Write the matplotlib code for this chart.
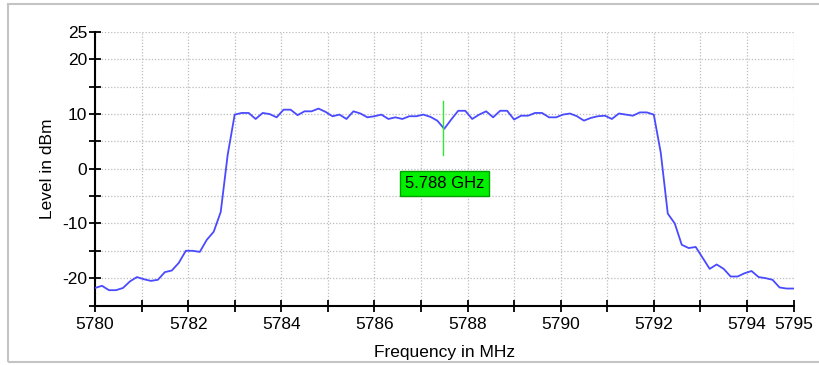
import numpy as np
import matplotlib
matplotlib.use("Agg")
import matplotlib.pyplot as plt
from matplotlib.patches import Rectangle
from matplotlib.ticker import FixedLocator, FixedFormatter

plt.rcParams['font.family'] = ['Liberation Sans', 'DejaVu Sans']

# ---- data ----
freq_start = 5780.0
freq_step = 0.15
levels = [
    -21.8, -21.4, -22.2, -22.2, -21.8, -20.6, -19.8, -20.2, -20.5, -20.3,
    -18.9, -18.6, -17.2, -15.0, -15.0, -15.2, -13.0, -11.5, -7.9, 2.6,
    9.9, 10.2, 10.2, 9.1, 10.2, 10.0, 9.4, 10.8, 10.8, 9.8,
    10.5, 10.5, 11.0, 10.4, 9.6, 9.9, 9.1, 10.5, 10.1, 9.4,
    9.6, 9.9, 9.1, 9.4, 9.1, 9.6, 9.6, 9.9, 9.5, 8.8,
    7.3, 9.0, 10.6, 10.6, 9.1, 9.9, 10.5, 9.4, 10.6, 10.6,
    9.0, 9.7, 9.7, 10.2, 10.2, 9.4, 9.4, 9.9, 10.1, 9.6,
    8.8, 9.3, 9.6, 9.7, 9.1, 10.1, 9.9, 9.7, 10.3, 10.3,
    9.9, 2.9, -8.2, -10.0, -13.9, -14.5, -14.3, -16.3, -18.3, -17.5,
    -18.3, -19.7, -19.7, -19.1, -18.7, -19.8, -20.0, -20.3, -21.7, -21.9,
    -21.9,
]
freqs = freq_start + freq_step * np.arange(len(levels))

x_ticks = list(range(5780, 5796))
x_tick_labels = ['5780', '', '5782', '', '5784', '', '5786', '', '5788', '',
                 '5790', '', '5792', '', '5794', '5795']
y_ticks = list(range(-25, 26, 5))
y_tick_labels = ['', '-20', '', '-10', '', '0', '', '10', '', '20', '25']

marker_freq = 5787.48
marker_low = 2.5
marker_high = 12.3
marker_label = '5.788 GHz'
label_pos = (5787.5, -2.7)

# ---- figure ----
fig = plt.figure(figsize=(8.19, 3.65), dpi=100)
fig.patch.set_facecolor('white')
# light outer frame
fig.patches.append(Rectangle((8/819, 1 - 362/365), 1.2, (362 - 4)/365,
                             transform=fig.transFigure, fill=False,
                             edgecolor='#c4c4c4', linewidth=1.5))

ax = fig.add_axes([95/819, 1 - 305.5/365, (793.5 - 95)/819, (305.5 - 32)/365])
ax.plot(freqs, levels, color='#4a4aff', linewidth=1.3, zorder=3)

ax.set_xlim(5780, 5795)
ax.set_ylim(-25, 25)

ax.xaxis.set_major_locator(FixedLocator(x_ticks))
ax.xaxis.set_major_formatter(FixedFormatter(x_tick_labels))
ax.yaxis.set_major_locator(FixedLocator(y_ticks))
ax.yaxis.set_major_formatter(FixedFormatter(y_tick_labels))

ax.grid(True, color='#bcbcbc', linestyle=(0, (1, 1.5)), linewidth=0.9)
ax.set_axisbelow(True)

for s in ['top', 'right']:
    ax.spines[s].set_visible(False)
for s in ['left', 'bottom']:
    ax.spines[s].set_linewidth(1.5)
    ax.spines[s].set_color('black')

ax.tick_params(axis='both', direction='inout', length=9, width=1.3,
               labelsize=12.5, colors='black')
ax.tick_params(axis='x', pad=4)
ax.tick_params(axis='y', pad=1)

ax.set_xlabel('Frequency in MHz', fontsize=12.5, labelpad=9)
ax.set_ylabel('Level in dBm', fontsize=12.5, labelpad=5)

# marker
ax.plot([marker_freq, marker_freq], [marker_low, marker_high],
        color='#33e633', linewidth=1.0, zorder=4)
ax.text(label_pos[0], label_pos[1], marker_label, fontsize=12,
        ha='center', va='center', color='black', zorder=5,
        bbox=dict(boxstyle='square,pad=0.3', facecolor='#00f000',
                  edgecolor='#00a000', linewidth=1))

fig.savefig('out.png', dpi=100, facecolor='white')
